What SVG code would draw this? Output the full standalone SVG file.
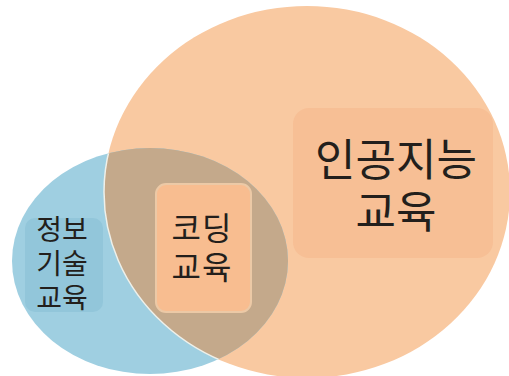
<svg xmlns="http://www.w3.org/2000/svg" width="509" height="376" viewBox="0 0 509 376">
<defs>
<style>
.t{font-family:"Noto Sans CJK KR","Noto Sans",sans-serif;fill:#231f1c;text-anchor:middle}
</style>
<clipPath id="blueClip"><ellipse cx="150" cy="261" rx="138" ry="113"/></clipPath>
</defs>
<rect width="509" height="376" fill="#ffffff"/>
<g id="ai-circle">
<ellipse cx="307" cy="192" rx="203" ry="186" fill="#f9c9a1"/>
</g>
<g id="info-circle">
<ellipse cx="150" cy="261" rx="138" ry="113" fill="#9fcfe1"/>
</g>
<g id="overlap">
<ellipse cx="307" cy="192" rx="203" ry="186" fill="#c4a98b" clip-path="url(#blueClip)"/>
<ellipse cx="307" cy="192" rx="203" ry="186" fill="none" stroke="#eef0ea" stroke-width="1.5" clip-path="url(#blueClip)"/>
</g>
<g id="ai-node">
<rect x="293" y="108" width="200" height="150" rx="16" fill="#f7bf95"/>
<text class="t" font-size="44"><tspan x="396" y="176">인공지능</tspan><tspan x="396" y="228">교육</tspan></text>
</g>
<g id="coding-node">
<rect x="156" y="184" width="95" height="128" rx="10" fill="#f8bd90" stroke="#ecc9a6" stroke-width="2"/>
<text class="t" font-size="32" letter-spacing="1"><tspan x="202" y="240">코딩</tspan><tspan x="202" y="279">교육</tspan></text>
</g>
<g id="info-node">
<rect x="25" y="218" width="78" height="94" rx="10" fill="#92c6da"/>
<text class="t" font-size="28"><tspan x="62" y="240">정보</tspan><tspan x="62" y="274">기술</tspan><tspan x="62" y="308">교육</tspan></text>
</g>
<g id="connectors"></g>
</svg>
